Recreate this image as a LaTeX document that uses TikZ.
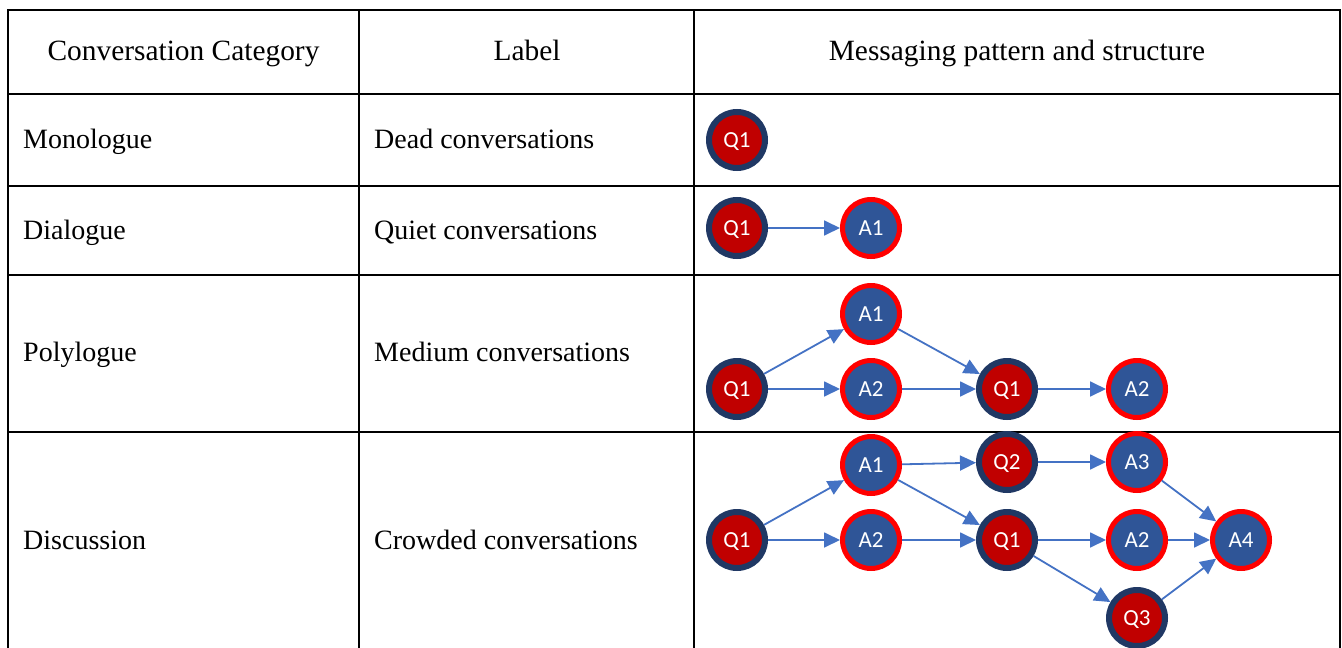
\documentclass[tikz,border=0pt]{standalone}
\usepackage{fontspec}
\setmainfont{Liberation Serif}
\newfontfamily\nodefont{Carlito}
\usetikzlibrary{arrows.meta}
\definecolor{qfill}{HTML}{C00000}
\definecolor{qline}{HTML}{203864}
\definecolor{afill}{HTML}{2F5597}
\definecolor{aline}{HTML}{FF0000}
\definecolor{flow}{HTML}{4472C4}

\begin{document}
\begin{tikzpicture}[x=1pt,y=-1pt,
  grid/.style={line width=2pt, black},
  cell/.style={anchor=base west, inner sep=0pt, font=\fontsize{28}{33}\selectfont},
  head/.style={anchor=base, inner sep=0pt, font=\fontsize{29.4}{35}\selectfont},
  bubble/.style={circle, inner sep=0pt, text depth=0pt, text=white, font=\nodefont\fontsize{23}{27}\selectfont},
  qnode/.style={bubble, minimum size=56pt, line width=6pt, draw=qline, fill=qfill},
  anode/.style={bubble, minimum size=57pt, line width=5pt, draw=aline, fill=afill},
  msg/.style={draw=flow, line width=1.8pt, -{Triangle[length=16pt,width=15pt]}}
]
\useasboundingbox (0,0) rectangle (1342,648);

% table rules
\draw[grid] (8,648) -- (8,10) -- (1340,10) -- (1340,648);
\draw[grid] (359,10) -- (359,648);
\draw[grid] (694,10) -- (694,648);
\foreach \y in {94,186,275,432}
  \draw[grid] (8,\y) -- (1340,\y);

% header row
\node[head] (h1) at (183.5,60) {Conversation Category};
\node[head] (h2) at (527,60) {Label};
\node[head] (h3) at (1017,60) {Messaging pattern and structure};

% category and label cells
\node[cell] (c1a) at (23,148) {Monologue};
\node[cell] (c1b) at (374,148) {Dead conversations};
\node[cell] (c2a) at (23,239) {Dialogue};
\node[cell] (c2b) at (374,239) {Quiet conversations};
\node[cell] (c3a) at (23,361) {Polylogue};
\node[cell] (c3b) at (374,361) {Medium conversations};
\node[cell] (c4a) at (23,549) {Discussion};
\node[cell] (c4b) at (374,549) {Crowded conversations};

% monologue
\node[qnode] (m-q1) at (737,140) {Q1};

% dialogue
\node[qnode] (d-q1) at (737,228) {Q1};
\node[anode] (d-a1) at (871,228) {A1};
\draw[msg] (d-q1) -- (d-a1);

% polylogue
\node[qnode] (p-q1) at (737,389) {Q1};
\node[anode] (p-a1) at (871,314) {A1};
\node[anode] (p-a2) at (871,389) {A2};
\node[qnode] (p-q1b) at (1007,389) {Q1};
\node[anode] (p-a2b) at (1137,389) {A2};
\draw[msg] (p-q1) -- (p-a1);
\draw[msg] (p-q1) -- (p-a2);
\draw[msg] (p-a1) -- (p-q1b);
\draw[msg] (p-a2) -- (p-q1b);
\draw[msg] (p-q1b) -- (p-a2b);

% discussion
\node[qnode] (c-q1) at (737,540) {Q1};
\node[anode] (c-a1) at (871,465) {A1};
\node[anode] (c-a2) at (871,540) {A2};
\node[qnode] (c-q2) at (1007,462) {Q2};
\node[qnode] (c-q1b) at (1007,540) {Q1};
\node[anode] (c-a3) at (1137,462) {A3};
\node[anode] (c-a2b) at (1137,540) {A2};
\node[anode] (c-a4) at (1241,540) {A4};
\node[qnode] (c-q3) at (1137,618) {Q3};
\draw[msg] (c-q1) -- (c-a1);
\draw[msg] (c-q1) -- (c-a2);
\draw[msg] (c-a1) -- (c-q2);
\draw[msg] (c-a1) -- (c-q1b);
\draw[msg] (c-a2) -- (c-q1b);
\draw[msg] (c-q2) -- (c-a3);
\draw[msg] (c-q1b) -- (c-a2b);
\draw[msg] (c-q1b) -- (c-q3);
\draw[msg] (c-a3) -- (c-a4);
\draw[msg] (c-a2b) -- (c-a4);
\draw[msg] (c-q3) -- (c-a4);
\end{tikzpicture}
\end{document}
